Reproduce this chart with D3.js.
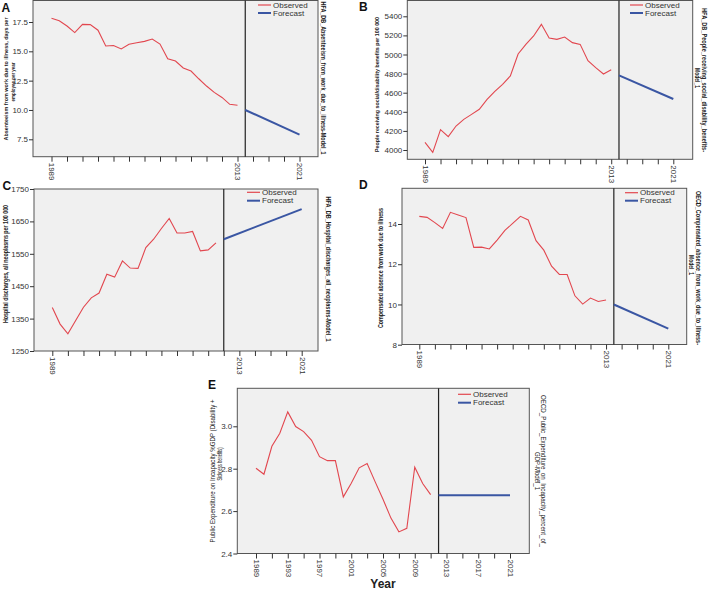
<!DOCTYPE html>
<html><head><meta charset="utf-8">
<script src="https://cdn.jsdelivr.net/npm/d3@7"></script>
<style>body{margin:0;background:#fff}svg{display:block;font-family:"Liberation Sans",Arial,sans-serif}</style>
</head><body><svg id="c" width="708" height="591"></svg>
<script>
// ---------- DATA ----------
const yearsObs = [1989,1990,1991,1992,1993,1994,1995,1996,1997,1998,1999,2000,2001,2002,2003,2004,2005,2006,2007,2008,2009,2010,2011,2012,2013];
const xTickYears = [1989,1991,1993,1995,1997,1999,2001,2003,2005,2007,2009,2011,2013,2015,2017,2019,2021];
const xLabelYears = [1989,2013,2021];
const xLabelYearsE = [1989,1993,1997,2001,2005,2009,2013,2017,2021];

// A: Absenteeism from work due to illness
const obsA = [17.82,17.6,17.16,16.6,17.3,17.28,16.8,15.45,15.5,15.2,15.6,15.73,15.85,16.05,15.62,14.37,14.17,13.58,13.32,12.66,12.04,11.5,11.07,10.48,10.4];
const fcYearsA = [2014,2021];
const fcA = [10.0,7.9];
const yTicksA = [7.5,10.0,12.5,15.0,17.5];

// B: People receiving social/disability benefits
const obsB = [4080,3975,4213,4140,4251,4321,4373,4426,4530,4614,4688,4775,5005,5106,5194,5316,5173,5159,5183,5124,5106,4935,4862,4796,4841];
const fcYearsB = [2014,2021];
const fcB = [4782,4534];
const yTicksB = [4000,4200,4400,4600,4800,5000,5200,5400];

// C: Hospital discharges, all neoplasms (1989-2010)
const yearsC = yearsObs.slice(0,22);
const obsC = [1384,1333,1303,1344,1385,1414,1429,1487,1478,1528,1506,1505,1569,1595,1628,1659,1614,1614,1619,1559,1562,1584];
const fcYearsC = [2011,2021];
const fcC = [1595,1688];
const yTicksC = [1250,1350,1450,1550,1650,1750];

// D: Compensated absence from work due to illness
const obsD = [14.38,14.33,14.07,13.78,14.58,14.45,14.32,12.84,12.85,12.76,13.2,13.68,14.03,14.38,14.2,13.17,12.7,11.9,11.49,11.49,10.43,10.02,10.32,10.15,10.22];
const fcYearsD = [2014,2021];
const fcD = [10.0,8.8];
const yTicksD = [8,10,12,14];

// E: Public expenditure on incapacity %GDP (1989-2011)
const yearsE = yearsObs.slice(0,23);
const obsE = [2.802,2.774,2.906,2.967,3.068,2.999,2.975,2.934,2.857,2.838,2.838,2.667,2.731,2.804,2.824,2.739,2.656,2.567,2.502,2.519,2.807,2.73,2.678];
const fcYearsE = [2012,2021];
const fcE = [2.675,2.675];
const yTicksE = [2.4,2.6,2.8,3.0];

// ---------- DRAW ----------
const svg = d3.select('#c');
const RED = '#e2474f', BLUE = '#3a56a3', BG = '#f0f0f0';

function vtext(x, yc, str, rot, size, len, weight, color) {
  svg.append('text')
    .attr('transform', `translate(${x},${yc}) rotate(${rot})`)
    .attr('text-anchor','middle').attr('dominant-baseline','central')
    .attr('font-size', size).attr('font-weight', weight||'normal')
    .attr('fill', color||'#222')
    .attr('textLength', len).attr('lengthAdjust','spacingAndGlyphs')
    .text(str);
}

function panel(p) {
  const g = svg.append('g');
  const x = d3.scaleLinear().domain([1989,2021]).range([p.x0, p.x1]);
  const y = d3.scaleLinear().domain(p.yd).range(p.yr);
  g.append('rect').attr('x',p.left).attr('y',p.top)
    .attr('width',p.right-p.left).attr('height',p.bottom-p.top)
    .attr('fill',BG).attr('stroke','#555').attr('stroke-width',1);
  g.append('line').attr('x1',x(p.fcYears[0])).attr('x2',x(p.fcYears[0]))
    .attr('y1',p.top).attr('y2',p.bottom).attr('stroke','#222').attr('stroke-width',1.2);

  const xa = g.append('g').attr('transform',`translate(0,${p.bottom})`)
    .call(d3.axisBottom(x).tickValues(xTickYears).tickSize(5)
      .tickFormat(d => p.xLabels.includes(d) ? String(d) : ''));
  xa.select('.domain').remove();
  xa.selectAll('line').attr('stroke','#333');
  xa.selectAll('text').attr('transform','rotate(90)').attr('x',6).attr('y',0)
    .attr('dy','0.33em').style('text-anchor','start')
    .attr('font-size',8).attr('fill','#333').attr('font-family','"Liberation Sans",Arial,sans-serif');

  const ya = g.append('g').attr('transform',`translate(${p.left},0)`)
    .call(d3.axisLeft(y).tickValues(p.yTicks).tickSize(4).tickPadding(1).tickFormat(p.fmt));
  ya.select('.domain').remove();
  ya.selectAll('line').attr('stroke','#333');
  ya.selectAll('text').attr('font-size',8).attr('fill','#333').attr('font-family','"Liberation Sans",Arial,sans-serif');

  const line = d3.line().x(d => x(d[0])).y(d => y(d[1]));
  g.append('path').datum(p.years.map((yr,i) => [yr, p.obs[i]]))
    .attr('d',line).attr('fill','none').attr('stroke',RED).attr('stroke-width',1.1);
  g.append('path').datum(p.fcYears.map((yr,i) => [yr, p.fc[i]]))
    .attr('d',line).attr('fill','none').attr('stroke',BLUE).attr('stroke-width',2);

  // legend
  const L = p.leg;
  [['Observed',RED,L[1],1.2],['Forecast',BLUE,L[2],2]].forEach(([t,c,yy,w]) => {
    g.append('line').attr('x1',L[0]).attr('x2',L[0]+13).attr('y1',yy).attr('y2',yy)
      .attr('stroke',c).attr('stroke-width',w);
    g.append('text').attr('x',L[0]+15).attr('y',yy).attr('dominant-baseline','central')
      .attr('font-size',8).attr('fill','#333').text(t);
  });
  // panel letter
  svg.append('text').attr('x',p.letter[1]).attr('y',p.letter[2]).attr('font-size',12)
    .attr('font-weight','bold').attr('fill','#111').text(p.letter[0]);
}

const f1 = d3.format('.1f'), f0 = d3.format('d');

panel({left:33,right:318,top:0.5,bottom:156.7,x0:51.5,x1:299.5,yd:[7.5,17.5],yr:[139.3,22],
  yTicks:yTicksA,fmt:f1,xLabels:xLabelYears,years:yearsObs,obs:obsA,fcYears:fcYearsA,fc:fcA,
  leg:[258,5,13],letter:['A',1.5,11.5]});
panel({left:407.3,right:692.7,top:0.5,bottom:159.3,x0:425,x1:673.3,yd:[4000,5400],yr:[150,16.3],
  yTicks:yTicksB,fmt:f0,xLabels:xLabelYears,years:yearsObs,obs:obsB,fcYears:fcYearsB,fc:fcB,
  leg:[630,5,13],letter:['B',359,11]});
panel({left:34,right:318,top:189,bottom:351,x0:52.3,x1:301.7,yd:[1250,1750],yr:[351,189],
  yTicks:yTicksC,fmt:f0,xLabels:xLabelYears,years:yearsC,obs:obsC,fcYears:fcYearsC,fc:fcC,
  leg:[247,192.3,200.7],letter:['C',2.5,190]});
panel({left:402,right:686.7,top:188.3,bottom:344.5,x0:419.3,x1:668.3,yd:[8,14],yr:[344.7,224],
  yTicks:yTicksD,fmt:f0,xLabels:xLabelYears,years:yearsObs,obs:obsD,fcYears:fcYearsD,fc:fcD,
  leg:[625,192.7,200.7],letter:['D',359,189]});
panel({left:237.3,right:529.3,top:388.3,bottom:553.5,x0:256,x1:510,yd:[2.4,3.0],yr:[553.5,426.3],
  yTicks:yTicksE,fmt:f1,xLabels:xLabelYearsE,years:yearsE,obs:obsE,fcYears:fcYearsE,fc:fcE,
  leg:[458,394.3,402.7],letter:['E',208,389]});

// y axis titles (rotated -90)
vtext(5.5, 79, 'Absenteeism from work due to illness, days per', -90, 6.2, 123, 'bold');
vtext(12, 82, 'employee per year', -90, 6.2, 39, 'bold');
vtext(377, 84.5, 'People receiving social/disability benefits per 100 000', -90, 5.3, 135, 'bold');
vtext(5.5, 264, 'Hospital discharges, all neoplasms per 100 000', -90, 6.5, 118, 'bold');
vtext(380, 268, 'Compensated absence from work due to illness', -90, 6.5, 120, 'bold');
vtext(212, 471, 'Public Expenditure on Incapacity %GDP (Disability +', -90, 7, 143, 'normal');
vtext(219.5, 464, 'Sickness benefits)', -90, 7, 33, 'normal');

// right-side model labels (rotated 90)
vtext(323.5, 78, 'HFA_DB_Absenteeism_from_work_due_to_illness-Model_1', 90, 6.5, 153, 'bold');
vtext(704.5, 80, 'HFA_DB_People_receiving_social_disability_benefits-', 90, 6.5, 144, 'bold');
vtext(697, 78, 'Model_1', 90, 6.5, 20, 'bold');
vtext(328, 269, 'HFA_DB_Hospital_discharges_all_neoplasms-Model_1', 90, 6.5, 145, 'bold');
vtext(698, 268, 'OECD_Compensated_absence_from_work_due_to_Illness-', 90, 6.5, 154, 'bold');
vtext(691, 265, 'Model_1', 90, 6.5, 20, 'bold');
vtext(543.5, 471, 'OECD_Public_Expenditure_on_Incapacity_percent_of_', 90, 6.5, 152, 'normal');
vtext(537, 471, 'GDP-Model_1', 90, 6.5, 38, 'normal');

// X axis title
svg.append('text').attr('x',383).attr('y',588).attr('text-anchor','middle')
  .attr('font-size',12).attr('font-weight','bold').attr('fill','#222').text('Year');
</script></body></html>
